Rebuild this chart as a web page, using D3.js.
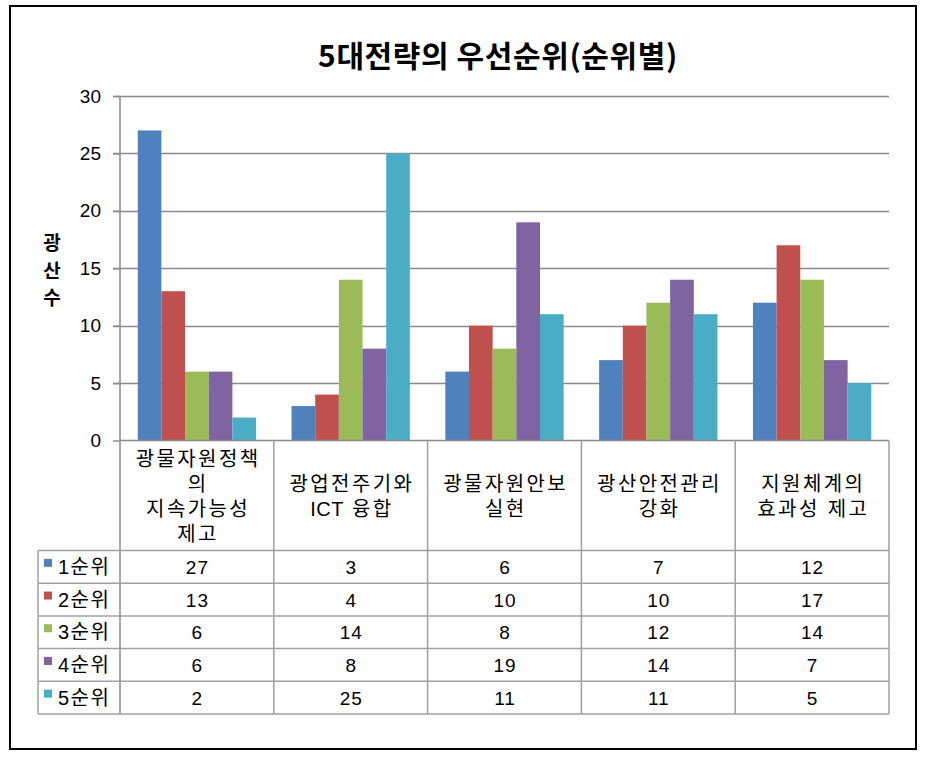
<!DOCTYPE html>
<html><head><meta charset="utf-8">
<script src="https://cdn.jsdelivr.net/npm/d3@7"></script>
<style>
html,body{margin:0;padding:0;background:#fff;}
text{font-family:"Liberation Sans","Noto Sans CJK KR",sans-serif;}
</style></head>
<body>
<svg id="c" width="932" height="760"></svg>
<script>
const title = "5대전략의 우선순위(순위별)";
const yTitle = ["광","산","수"];
const categories = ["c1","c2","c3","c4","c5"];
const categoryLines = [
  ["광물자원정책","의","지속가능성","제고"],
  ["광업전주기와","ICT 융합"],
  ["광물자원안보","실현"],
  ["광산안전관리","강화"],
  ["지원체계의","효과성 제고"]
];
const seriesNames = ["1순위","2순위","3순위","4순위","5순위"];
const colors = ["#4F81BD","#C0504D","#9BBB59","#8064A2","#4BACC6"];
const rank1 = [27,3,6,7,12];
const rank2 = [13,4,10,10,17];
const rank3 = [6,14,8,12,14];
const rank4 = [6,8,19,14,7];
const rank5 = [2,25,11,11,5];
const yTicks = [0,5,10,15,20,25,30];

(function(){
const series = [rank1,rank2,rank3,rank4,rank5];

const svg = d3.select("#c");
svg.append("rect").attr("x",0).attr("y",0).attr("width",932).attr("height",760).attr("fill","#fff");
svg.append("rect").attr("x",10).attr("y",6).attr("width",906).attr("height",743)
  .attr("fill","none").attr("stroke","#000").attr("stroke-width",2);

const pL=120, pR=889, pT=96, pB=440.5;
const x = d3.scaleBand().domain(categories).range([pL,pR]).padding(0);
const xs = d3.scaleBand().domain(seriesNames).range([0,x.bandwidth()]).paddingInner(0).paddingOuter(0.75);
const y = d3.scaleLinear().domain([0,30]).range([pB,pT]);

// title
svg.append("text").attr("x",498).attr("y",67).attr("text-anchor","middle")
  .style("font-family","'Noto Sans CJK KR',sans-serif").style("font-weight","bold")
  .style("font-size","30px").style("letter-spacing","0.6px").attr("fill","#000").text(title);

// gridlines
svg.append("g").selectAll("line").data(yTicks.filter(d=>d>0)).join("line")
  .attr("x1",pL-7).attr("x2",pR).attr("y1",d=>Math.round(y(d))+0.5).attr("y2",d=>Math.round(y(d))+0.5)
  .attr("stroke","#8a8a8a").attr("stroke-width",1.5);

// y axis
const yAxis = d3.axisLeft(y).tickValues(yTicks).tickSize(7).tickPadding(12).tickFormat(d3.format("d"));
const ga = svg.append("g").attr("transform",`translate(${pL},0)`).call(yAxis);
ga.select(".domain").remove();
ga.selectAll(".tick line").attr("stroke","#8a8a8a").attr("stroke-width",1.5);
ga.selectAll(".tick text").style("font-size","19px").style("font-family","'Liberation Sans',sans-serif").attr("fill","#000");

// y title
svg.append("g").selectAll("text").data(yTitle).join("text")
  .attr("x",52).attr("y",(d,i)=>250+i*27.5).attr("text-anchor","middle")
  .style("font-family","'Noto Sans CJK KR',sans-serif").style("font-weight","bold")
  .style("font-size","19px").attr("fill","#000").text(d=>d);

// bars
series.forEach((vals,si)=>{
  svg.append("g").selectAll("rect").data(vals).join("rect")
    .attr("x",(d,i)=>x(categories[i])+xs(seriesNames[si]))
    .attr("width",xs.bandwidth())
    .attr("y",d=>y(d)).attr("height",d=>pB-y(d))
    .attr("fill",colors[si]);
});

// table
const hdrTop = 440.5, hdrBot = 550.5, rowH = 32.7, tblLeft = 38;
const rowY = i => hdrBot + i*rowH;
const tblBottom = rowY(5);
const gt = svg.append("g").attr("stroke","#a0a0a0").attr("stroke-width",1.5);
gt.append("line").attr("x1",pL).attr("x2",pL).attr("y1",pT).attr("y2",tblBottom).attr("stroke","#8a8a8a");
gt.append("line").attr("x1",pL).attr("x2",pR).attr("y1",hdrTop).attr("y2",hdrTop).attr("stroke","#8a8a8a");
categories.forEach((c,i)=>{
  const xx = x(c)+x.bandwidth();
  gt.append("line").attr("x1",xx).attr("x2",xx).attr("y1",hdrTop).attr("y2",tblBottom);
});
gt.append("line").attr("x1",tblLeft).attr("x2",tblLeft).attr("y1",hdrBot).attr("y2",tblBottom);
for(let i=0;i<=5;i++){
  gt.append("line").attr("x1",tblLeft).attr("x2",pR).attr("y1",rowY(i)).attr("y2",rowY(i));
}

// split into runs: Latin runs get small spacing, Hangul runs wider spacing
function runs(s){
  const out=[]; const re=/([A-Za-z0-9]+)|([^A-Za-z0-9]+)/g; let m;
  while((m=re.exec(s))) out.push({t:m[0], latin:!!m[1]});
  return out;
}

// header labels
categories.forEach((c,i)=>{
  const lines = categoryLines[i];
  const cx = x(c)+x.bandwidth()/2 + 1.2;
  const cy = (hdrTop+hdrBot)/2;
  const lh = 25;
  const y0 = cy - (lines.length-1)*lh/2;
  const tx = svg.append("g").selectAll("text").data(lines).join("text")
    .attr("x",cx).attr("y",(d,j)=>y0+j*lh+7.5).attr("text-anchor","middle")
    .style("font-size","20px").attr("fill","#000");
  tx.selectAll("tspan").data(d=>runs(d)).join("tspan")
    .style("letter-spacing",d=>d.latin?"0.5px":"2.4px").text(d=>d.t);
});

// rows
series.forEach((vals,si)=>{
  const cy = rowY(si)+rowH/2;
  svg.append("rect").attr("x",44).attr("y",cy-8).attr("width",8).attr("height",8).attr("fill",colors[si]);
  svg.append("text").attr("x",58).attr("y",cy+7).style("font-size","20px").style("letter-spacing","1.5px")
    .attr("fill","#000").text(seriesNames[si]);
  svg.append("g").selectAll("text").data(vals).join("text")
    .attr("x",(d,i)=>x(categories[i])+x.bandwidth()/2 + 0.5).attr("y",cy+7).attr("text-anchor","middle")
    .style("font-size","19px").style("letter-spacing","1px").attr("fill","#000").text(d=>d);
});
})();
</script>
</body></html>
